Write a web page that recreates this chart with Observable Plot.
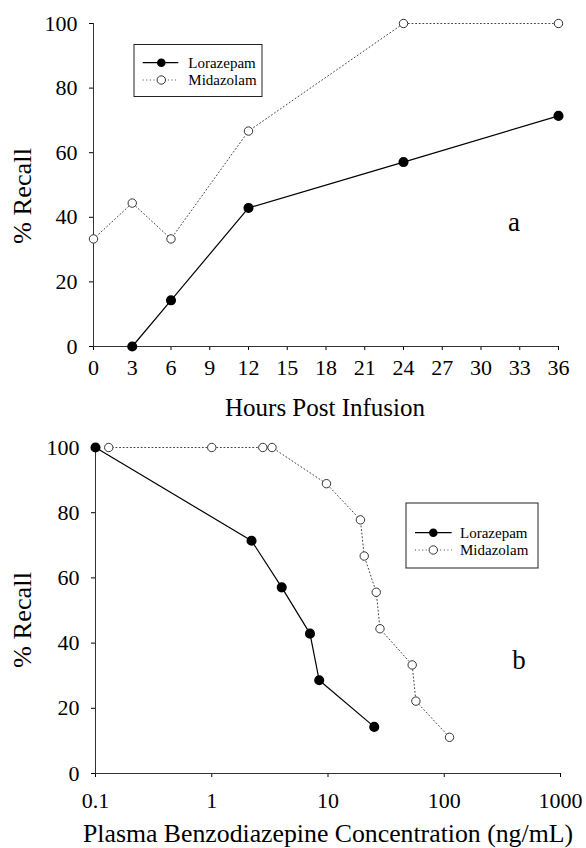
<!DOCTYPE html>
<html><head><meta charset="utf-8">
<script src="https://cdn.jsdelivr.net/npm/d3@7"></script>
<script src="https://cdn.jsdelivr.net/npm/@observablehq/plot@0.6"></script>
<style>
html,body{margin:0;padding:0;background:#fff;}
#wrap{position:relative;width:586px;height:848px;overflow:hidden;}
#wrap svg{position:absolute;left:0;}
#wrap svg, #wrap svg text{font-family:"Liberation Serif","Times New Roman",Times,serif !important;}
</style></head><body><div id="wrap"></div>
<script>
// ---- data ----
const hoursTicks = [0,3,6,9,12,15,18,21,24,27,30,33,36];
const recallTicks = [0,20,40,60,80,100];
const concTicks = [0.1,1,10,100,1000];
const seriesNames = ["Lorazepam","Midazolam"];

// panel a: % recall vs hours post infusion
const loraHours = [3,6,12,24,36];
const loraRecallA = [0,14.3,42.9,57.1,71.4];
const midaHours = [0,3,6,12,24,36];
const midaRecallA = [33.3,44.4,33.3,66.7,100,100];

// panel b: % recall vs plasma concentration (ng/mL)
const loraConc = [0.1,2.2,4.0,7.0,8.4,25];
const loraRecallB = [100,71.4,57.1,42.9,28.6,14.3];
const midaConc = [0.13,1.0,2.75,3.3,9.7,19,20.5,26,28,53,57,111];
const midaRecallB = [100,100,100,100,88.9,77.8,66.7,55.6,44.4,33.3,22.2,11.1];

const zip = (xs, ys) => xs.map((x, i) => ({x, y: ys[i]}));
const loraA = zip(loraHours, loraRecallA), midaA = zip(midaHours, midaRecallA);
const loraB = zip(loraConc, loraRecallB), midaB = zip(midaConc, midaRecallB);

const FONT = '"Liberation Serif","Times New Roman",Times,serif';
const AX = "#333";

function seriesMarks(lora, mida) {
  return [
    Plot.line(mida, {x: "x", y: "y", stroke: "#444", strokeWidth: 1, strokeDasharray: "1 2.6"}),
    Plot.line(lora, {x: "x", y: "y", stroke: "#000", strokeWidth: 1.2}),
    Plot.dot(mida, {x: "x", y: "y", r: 4.2, fill: "white", stroke: "#333", strokeWidth: 1}),
    Plot.dot(lora, {x: "x", y: "y", r: 4.3, fill: "#000", stroke: "#000"})
  ];
}

const wrap = document.getElementById("wrap");

const plotA = Plot.plot({
  width: 586, height: 424,
  marginLeft: 93, marginRight: 28, marginTop: 23, marginBottom: 78,
  style: {fontFamily: FONT, fontSize: "22px", color: "#000", background: "transparent", overflow: "visible"},
  x: {type: "linear", domain: [0, 36], ticks: hoursTicks, label: null, tickSize: 4, tickPadding: 9},
  y: {domain: [0, 100], ticks: recallTicks, label: null, tickSize: 4, tickPadding: 12},
  marks: [
    Plot.ruleX([0], {stroke: AX}),
    Plot.ruleY([0], {stroke: AX}),
    ...seriesMarks(loraA, midaA)
  ]
});
plotA.style.top = "0px";
wrap.appendChild(plotA);

const plotB = Plot.plot({
  width: 586, height: 424,
  marginLeft: 95, marginRight: 26, marginTop: 23, marginBottom: 75,
  style: {fontFamily: FONT, fontSize: "22px", color: "#000", background: "transparent", overflow: "visible"},
  x: {type: "log", domain: [0.1, 1000], ticks: concTicks, tickFormat: d => String(d), label: null, tickSize: 4, tickPadding: 15},
  y: {domain: [0, 100], ticks: recallTicks, label: null, tickSize: 4, tickPadding: 12},
  marks: [
    Plot.ruleX([0.1], {stroke: AX}),
    Plot.ruleY([0], {stroke: AX}),
    ...seriesMarks(loraB, midaB)
  ]
});
plotB.style.top = "424px";
wrap.appendChild(plotB);

// ---- overlay: axis titles, panel letters, legends ----
const ov = d3.create("svg").attr("width", 586).attr("height", 848)
  .style("top", "0px").style("pointer-events", "none");

function title(x, y, txt, size, len, rot) {
  const t = ov.append("text").attr("x", x).attr("y", y).attr("text-anchor", "middle")
    .attr("font-size", size).attr("fill", "#000").text(txt);
  if (len) t.attr("textLength", len).attr("lengthAdjust", "spacingAndGlyphs");
  if (rot) t.attr("transform", `rotate(-90 ${x} ${y})`);
}
title(325, 416, "Hours Post Infusion", 25, 200);
title(328, 842, "Plasma Benzodiazepine Concentration (ng/mL)", 25, 490);
title(31, 196, "% Recall", 25, 96, true);
title(31, 620, "% Recall", 25, 96, true);
ov.append("text").attr("x", 514).attr("y", 231).attr("text-anchor", "middle").attr("font-size", 27).text("a");
ov.append("text").attr("x", 519).attr("y", 669).attr("text-anchor", "middle").attr("font-size", 27).text("b");

function legend(bx, by, bw, bh, r1, r2, lx0, lx1, mx, tx) {
  const g = ov.append("g");
  g.append("rect").attr("x", bx).attr("y", by).attr("width", bw).attr("height", bh)
    .attr("fill", "white").attr("stroke", "#222").attr("stroke-width", 1);
  g.append("line").attr("x1", lx0).attr("x2", lx1).attr("y1", r1).attr("y2", r1).attr("stroke", "#000").attr("stroke-width", 1.2);
  g.append("circle").attr("cx", mx).attr("cy", r1).attr("r", 4.3).attr("fill", "#000");
  g.append("line").attr("x1", lx0).attr("x2", lx1).attr("y1", r2).attr("y2", r2).attr("stroke", "#444").attr("stroke-dasharray", "1 2.6");
  g.append("circle").attr("cx", mx).attr("cy", r2).attr("r", 4.2).attr("fill", "white").attr("stroke", "#333");
  g.append("text").attr("x", tx).attr("y", r1 + 5).attr("font-size", 15).text(seriesNames[0]);
  g.append("text").attr("x", tx).attr("y", r2 + 5).attr("font-size", 15).text(seriesNames[1]);
}
legend(134, 44.5, 128, 52, 62.7, 80, 142.7, 178.3, 161.3, 188.3);
legend(406, 503, 132, 65, 532.7, 550, 415, 451.7, 433.3, 460);

wrap.appendChild(ov.node());
</script>
</body></html>
